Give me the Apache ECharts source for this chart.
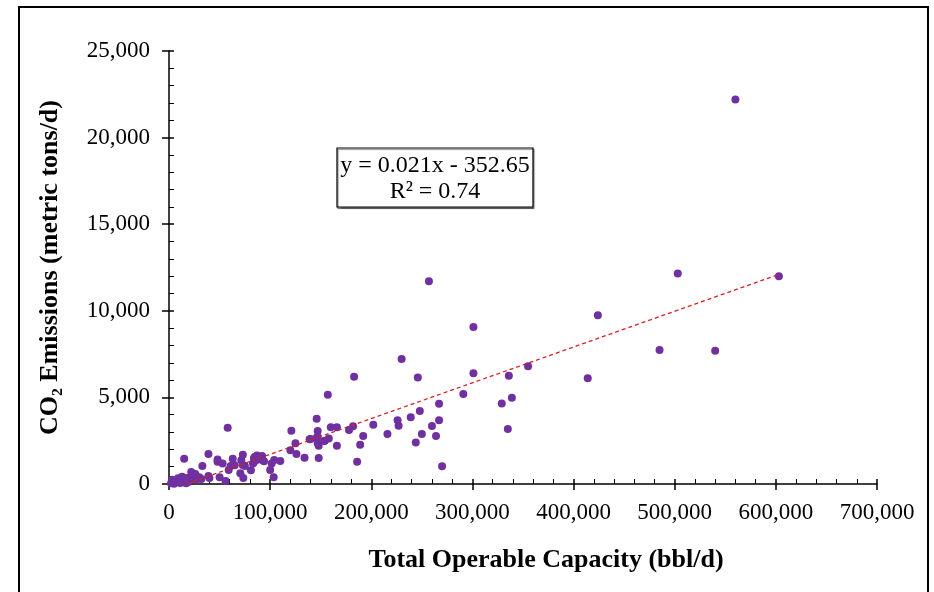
<!DOCTYPE html>
<html>
<head>
<meta charset="utf-8">
<script src="https://cdn.jsdelivr.net/npm/echarts@6/dist/echarts.min.js"></script>
<style>
html, body { margin: 0; padding: 0; background: #fff; }
#chart { width: 934px; height: 592px; }
</style>
</head>
<body>
<div id="chart"></div>
<script>
// refinery capacity (bbl/d) vs CO2 emissions (metric tons/d)
var capacity = [
	560000, 603000, 503000, 424000, 485000, 540000, 414000, 355000, 336000, 339000,
	329000, 335000, 257000, 301000, 230000, 183000, 246000, 301000, 157000, 291000,
	267000, 248000, 239000, 267000, 146000, 226000, 227000, 260000, 202000, 182000,
	178000, 160000, 166000, 147000, 140000, 146000, 154000, 158000, 148000, 166000,
	192000, 189000, 216000, 250000, 264000, 244000, 134000, 148000, 186000, 270000,
	58000, 15000, 39000, 33000, 48000, 48000, 53000, 63000, 73000, 71500,
	61000, 65000, 59000, 70500, 73500, 81000, 50000, 56000, 40000, 22000,
	26000, 30000, 32000, 39000, 84000, 84000, 87000, 90000, 92000, 92500,
	94000, 100000, 103500, 104000, 110000, 121000, 125000, 126000, 120000, 139000,
	147000, 147000, 153500, 85000, 86500, 83000, 101500, 73000, 75000,
	2000, 4000, 6000, 8000, 10000, 12000, 14000, 16000, 18000, 20000,
	22000, 9000, 3000, 25000, 13000, 17000, 5000, 11000, 19000, 27000
];
var emissions = [
	22200, 12000, 12150, 9750, 7730, 7700, 6100, 6800, 6250, 4980,
	4650, 3170, 11700, 9060, 7210, 6190, 6150, 6390, 5150, 5190,
	4630, 4210, 3850, 3680, 3770, 3680, 3370, 3350, 3420, 3330,
	3120, 3270, 3270, 3060, 2600, 2670, 2500, 2620, 2210, 2210,
	2770, 2270, 2890, 2890, 2770, 2390, 1520, 1500, 1280, 1020,
	3250, 1460, 1730, 1040, 1420, 1290, 1190, 1460, 1690, 1370,
	1040, 1080, 810, 620, 350, 790, 390, 170, 350, 690,
	580, 390, 290, 460, 1500, 1250, 1650, 1440, 1620, 1370,
	1310, 810, 390, 1390, 1330, 3080, 2350, 1730, 1950, 2580,
	2730, 2350, 2480, 1580, 1385, 1190, 1190, 1100, 1040,
	50, 120, 80, 200, 150, 300, 100, 250, 350, 180,
	400, 330, 250, 300, 420, 50, 20, 60, 120, 250
];

// linear trend line, ends
var trendX = [17000, 603000];
var trendY = [0, 12100];
var trendText = ['y = 0.021x - 352.65', 'R\u00B2 = 0.74'];

var points = [];
for (var i = 0; i < capacity.length; i++) {
	points.push([capacity[i], emissions[i]]);
}
var trend = [[trendX[0], trendY[0]], [trendX[1], trendY[1]]];

var serif = '"Liberation Serif", "Times New Roman", serif';

function fmt(v) {
	return echarts.format.addCommas(v);
}

var chart = echarts.init(document.getElementById('chart'));
var option = {
	backgroundColor: '#fff',
	animation: false,
	grid: { left: 169, right: 57, top: 51, bottom: 108 },
	xAxis: [{
		type: 'value', min: 0, max: 700000, interval: 100000,
		position: 'bottom',
		name: 'Total Operable Capacity (bbl/d)',
		nameLocation: 'middle', nameGap: 63,
		// title sits a little right of the plot centre
		nameTextStyle: { fontFamily: serif, fontSize: 26, fontWeight: 'bold', color: '#000', padding: [0, 0, 0, 46] },
		axisLine: { onZero: false, lineStyle: { color: '#000', width: 1.5 } },
		axisTick: { show: true, inside: false, length: 6, lineStyle: { color: '#000', width: 1.5 } },
		axisLabel: { margin: 17, fontFamily: serif, fontSize: 23, color: '#000', formatter: fmt },
		splitLine: { show: false }
	}, {
		type: 'value', min: 0, max: 700000, interval: 100000,
		position: 'bottom',
		axisLine: { show: false, onZero: false },
		axisTick: { show: true, inside: true, length: 5, lineStyle: { color: '#000', width: 1.5 } },
		minorTick: { show: true, splitNumber: 5, length: 5, lineStyle: { color: '#000', width: 1 } },
		axisLabel: { show: false },
		splitLine: { show: false }
	}],
	yAxis: [{
		type: 'value', min: 0, max: 25000, interval: 5000,
		position: 'left',
		name: 'CO\u2082 Emissions (metric tons/d)',
		nameLocation: 'middle', nameGap: 106,
		nameTextStyle: { fontFamily: serif, fontSize: 26, fontWeight: 'bold', color: '#000' },
		axisLine: { onZero: false, lineStyle: { color: '#000', width: 1.5 } },
		axisTick: { show: true, inside: false, length: 7, lineStyle: { color: '#000', width: 1.5 } },
		axisLabel: { margin: 19, fontFamily: serif, fontSize: 23, color: '#000', formatter: fmt },
		splitLine: { show: false }
	}, {
		type: 'value', min: 0, max: 25000, interval: 5000,
		position: 'left',
		axisLine: { show: false, onZero: false },
		axisTick: { show: true, inside: true, length: 5, lineStyle: { color: '#000', width: 1.5 } },
		minorTick: { show: true, splitNumber: 5, length: 5, lineStyle: { color: '#000', width: 1 } },
		axisLabel: { show: false },
		splitLine: { show: false }
	}],
	series: [{
		type: 'scatter',
		xAxisIndex: 0, yAxisIndex: 0,
		data: points,
		symbolSize: 8,
		itemStyle: { color: '#7030A0', opacity: 1 },
		z: 3
	}, {
		type: 'line',
		xAxisIndex: 0, yAxisIndex: 0,
		data: trend,
		symbol: 'none',
		lineStyle: { color: '#D42020', width: 1.3, type: [4, 3] },
		z: 4
	}],
	graphic: [{
		type: 'rect',
		shape: { x: 19, y: 7, width: 909, height: 610 },
		style: { fill: 'none', stroke: '#000', lineWidth: 2 }
	}, {
		type: 'rect',
		shape: { x: 337, y: 148, width: 196, height: 59 },
		style: { fill: '#fff', stroke: '#000', lineWidth: 1.2, shadowColor: 'rgba(0,0,0,0.45)', shadowOffsetX: 1, shadowOffsetY: 1.5, shadowBlur: 1 },
		z: 10
	}, {
		type: 'text',
		x: 435, y: 166,
		style: { text: trendText[0], fontFamily: serif, fontSize: 24, fill: '#000', align: 'center', verticalAlign: 'middle' },
		z: 11
	}, {
		type: 'text',
		x: 435, y: 192,
		style: { text: trendText[1], fontFamily: serif, fontSize: 24, fill: '#000', align: 'center', verticalAlign: 'middle' },
		z: 11
	}]
};
chart.setOption(option);
</script>
</body>
</html>
